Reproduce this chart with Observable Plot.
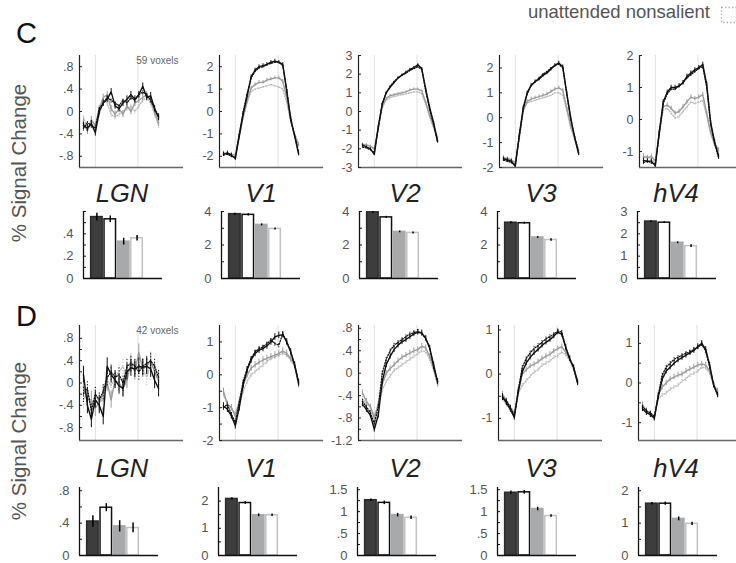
<!DOCTYPE html>
<html><head><meta charset="utf-8">
<script src="https://cdn.jsdelivr.net/npm/d3@7"></script>
<script src="https://cdn.jsdelivr.net/npm/@observablehq/plot@0.6"></script>
<style>
html,body{margin:0;padding:0;background:#fff;}
#fig{position:relative;width:736px;height:563px;overflow:hidden;font-family:"Liberation Sans",Arial,sans-serif;}
</style></head>
<body><div id="fig"></div>
<script>
// ---------------- DATA ----------------
const regions = ["LGN", "V1", "V2", "V3", "hV4"];
const conditions = ["attended salient", "attended nonsalient", "unattended salient", "unattended nonsalient"];
const refLines = [3, 13.8];           // stimulus on/off markers (time index)
const voxelNotes = ["59 voxels", "42 voxels"];

// Panel C time courses (AS, AN, US, UN)
const C_LGN_AS = [-0.25,-0.3,-0.22,-0.38,0.0,0.15,0.22,0.35,0.1,0.05,0.15,0.22,0.3,0.22,0.3,0.45,0.25,0.28,0.05,-0.1];
const C_LGN_AN = [-0.3,-0.2,-0.25,-0.3,0.05,0.15,0.25,0.2,0.15,0.1,0.2,0.15,0.25,0.2,0.3,0.35,0.3,0.2,0.05,-0.1];
const C_LGN_US = [-0.2,-0.35,-0.15,-0.25,0.05,0.25,0.3,0.05,-0.05,0.05,-0.05,0.1,0.0,0.15,0.2,0.25,0.3,0.2,0.0,-0.2];
const C_LGN_UN = [-0.1,-0.3,-0.2,-0.3,-0.05,0.2,0.15,-0.05,-0.1,-0.05,0.0,0.05,0.1,0.0,0.1,0.2,0.25,0.15,-0.05,-0.25];
const C_V1_AS = [-1.9,-1.85,-1.95,-2.1,-1.1,-0.1,0.7,1.55,1.85,2.0,2.05,2.1,2.2,2.25,2.2,2.1,0.9,-0.3,-1.1,-1.9];
const C_V1_AN = [-1.95,-1.9,-2.0,-2.05,-1.0,0.0,0.8,1.5,1.8,1.95,2.0,2.1,2.15,2.2,2.2,2.05,1.0,-0.4,-1.05,-1.8];
const C_V1_US = [-1.85,-1.9,-1.9,-1.95,-1.1,-0.2,0.5,1.05,1.2,1.3,1.3,1.4,1.45,1.5,1.5,1.35,0.6,-0.4,-1.1,-1.5];
const C_V1_UN = [-1.9,-1.85,-1.95,-2.0,-1.1,-0.3,0.4,0.9,1.0,1.05,1.1,1.15,1.2,1.15,1.1,1.0,0.4,-0.4,-1.0,-1.4];
const C_V2_AS = [-1.8,-1.9,-2.0,-2.3,-0.8,0.4,1.0,1.3,1.55,1.8,1.95,2.1,2.25,2.35,2.5,2.3,1.2,0.2,-0.6,-1.6];
const C_V2_AN = [-1.9,-1.95,-2.05,-2.2,-0.9,0.4,1.0,1.35,1.6,1.8,1.95,2.05,2.2,2.3,2.4,2.25,1.1,0.1,-0.7,-1.65];
const C_V2_US = [-1.75,-1.8,-1.85,-2.0,-0.9,0.3,0.7,0.85,0.9,0.95,1.0,1.05,1.15,1.2,1.2,1.1,0.5,-0.2,-0.8,-1.4];
const C_V2_UN = [-1.8,-1.75,-1.9,-2.0,-0.9,0.2,0.6,0.75,0.8,0.85,0.9,0.95,1.0,1.05,1.05,0.95,0.4,-0.3,-0.9,-1.5];
const C_V3_AS = [-1.65,-1.7,-1.75,-1.95,-0.7,0.4,1.0,1.3,1.45,1.55,1.7,1.8,1.95,2.1,2.2,2.05,1.0,0.0,-0.8,-1.45];
const C_V3_AN = [-1.7,-1.75,-1.8,-1.9,-0.75,0.35,0.95,1.3,1.45,1.6,1.75,1.85,2.0,2.1,2.15,2.0,0.95,-0.05,-0.75,-1.4];
const C_V3_US = [-1.6,-1.65,-1.7,-1.8,-0.8,0.3,0.65,0.75,0.8,0.85,0.9,0.95,1.05,1.15,1.2,1.1,0.4,-0.3,-0.8,-1.3];
const C_V3_UN = [-1.7,-1.6,-1.7,-1.85,-0.8,0.25,0.6,0.65,0.7,0.75,0.8,0.85,0.9,1.0,1.0,0.9,0.3,-0.4,-0.9,-1.35];
const C_hV4_AS = [-1.28,-1.3,-1.3,-1.45,-0.4,0.55,0.85,1.0,1.0,1.05,1.15,1.35,1.45,1.55,1.62,1.72,1.1,-0.1,-0.7,-1.15];
const C_hV4_AN = [-1.35,-1.3,-1.35,-1.4,-0.45,0.5,0.8,0.95,0.95,1.05,1.15,1.3,1.4,1.5,1.6,1.65,1.0,-0.15,-0.75,-1.2];
const C_hV4_US = [-1.15,-1.2,-1.15,-1.3,-0.4,0.4,0.45,0.35,0.2,0.25,0.4,0.55,0.7,0.65,0.7,0.78,0.2,-0.4,-0.75,-0.95];
const C_hV4_UN = [-1.2,-1.15,-1.25,-1.35,-0.45,0.3,0.35,0.2,0.05,0.1,0.25,0.4,0.55,0.5,0.55,0.6,0.1,-0.45,-0.8,-1.05];

// Panel D time courses
const D_LGN_AS = [0.15,-0.4,-0.65,-0.3,-0.4,-0.6,0.3,0.15,0.05,-0.05,-0.1,0.2,0.27,0.25,0.3,0.28,0.3,0.25,0.05,-0.1];
const D_LGN_AN = [-0.2,-0.1,-0.5,-0.2,-0.3,-0.15,0.1,0.2,0.1,0.15,0.0,0.3,0.35,0.3,0.2,0.3,0.35,0.4,0.3,0.1];
const D_LGN_US = [-0.05,-0.3,-0.3,-0.45,-0.35,-0.2,0.0,-0.3,0.05,0.0,-0.1,0.05,0.35,0.2,0.55,0.25,0.3,0.4,0.2,0.05];
const D_LGN_UN = [-0.3,-0.15,-0.45,-0.2,-0.35,-0.3,0.05,-0.05,0.1,0.2,0.3,0.1,0.4,0.3,0.3,0.25,0.1,0.35,0.25,0.0];
const D_V1_AS = [-0.95,-1.05,-1.25,-1.55,-1.0,-0.3,0.15,0.45,0.65,0.75,0.8,0.88,1.0,1.15,1.2,1.22,1.0,0.7,0.3,-0.25];
const D_V1_AN = [-1.0,-0.9,-1.2,-1.45,-0.85,-0.2,0.2,0.5,0.7,0.8,0.85,0.95,1.05,0.95,0.9,1.25,1.0,0.7,0.3,-0.2];
const D_V1_US = [-0.5,-0.9,-1.0,-1.25,-0.8,-0.3,0.0,0.2,0.3,0.38,0.45,0.5,0.55,0.6,0.65,0.72,0.65,0.5,0.3,-0.3];
const D_V1_UN = [-0.6,-0.9,-1.0,-1.2,-0.9,-0.5,-0.2,0.0,0.1,0.2,0.3,0.4,0.5,0.55,0.6,0.65,0.6,0.45,0.25,-0.3];
const D_V2_AS = [-0.55,-0.65,-0.75,-1.0,-0.75,-0.15,0.15,0.3,0.42,0.5,0.56,0.6,0.65,0.7,0.73,0.72,0.62,0.45,0.15,-0.15];
const D_V2_AN = [-0.5,-0.6,-0.7,-0.9,-0.6,0.0,0.25,0.4,0.5,0.55,0.6,0.65,0.7,0.72,0.75,0.7,0.62,0.45,0.1,-0.15];
const D_V2_US = [-0.35,-0.5,-0.6,-0.8,-0.55,-0.2,0.0,0.08,0.15,0.22,0.28,0.32,0.36,0.4,0.42,0.48,0.45,0.3,0.1,-0.2];
const D_V2_UN = [-0.45,-0.55,-0.6,-0.75,-0.6,-0.3,-0.15,-0.05,0.05,0.1,0.15,0.2,0.25,0.3,0.35,0.4,0.38,0.25,0.05,-0.2];
const D_V3_AS = [-0.5,-0.65,-0.8,-0.98,-0.4,0.05,0.25,0.38,0.48,0.56,0.65,0.72,0.78,0.86,0.95,0.9,0.6,0.35,0.15,-0.2];
const D_V3_AN = [-0.55,-0.6,-0.75,-0.95,-0.35,0.15,0.35,0.48,0.58,0.65,0.72,0.8,0.85,0.9,0.98,0.95,0.62,0.35,0.15,-0.2];
const D_V3_US = [-0.45,-0.6,-0.75,-0.9,-0.4,0.0,0.1,0.18,0.22,0.28,0.35,0.4,0.45,0.52,0.58,0.62,0.5,0.35,0.15,-0.15];
const D_V3_UN = [-0.55,-0.7,-0.75,-0.85,-0.45,-0.25,-0.15,-0.05,0.05,0.1,0.2,0.25,0.3,0.38,0.42,0.5,0.45,0.3,0.1,-0.2];
const D_hV4_AS = [-0.65,-0.75,-0.8,-0.88,-0.35,0.1,0.3,0.4,0.5,0.58,0.64,0.7,0.76,0.82,0.92,1.0,0.85,0.45,-0.05,-0.3];
const D_hV4_AN = [-0.6,-0.7,-0.75,-0.85,-0.3,0.2,0.4,0.5,0.6,0.65,0.7,0.75,0.78,0.85,0.9,0.98,0.8,0.4,-0.05,-0.3];
const D_hV4_US = [-0.55,-0.7,-0.8,-0.9,-0.3,-0.1,0.0,0.1,0.15,0.2,0.22,0.3,0.35,0.4,0.45,0.48,0.45,0.3,-0.05,-0.2];
const D_hV4_UN = [-0.6,-0.75,-0.8,-0.85,-0.4,-0.3,-0.25,-0.15,-0.1,-0.05,0.05,0.1,0.2,0.25,0.3,0.4,0.38,0.25,-0.05,-0.25];

// Time-course error bar half-widths per region (AS, AN, US, UN)
const C_tcErr = [[0.06,0.05,0.06,0.05],[0.08,0.06,0.08,0.06],[0.06,0.05,0.06,0.05],[0.07,0.05,0.07,0.05],[0.07,0.05,0.07,0.05]];
const D_tcErr = [[0.15,0.15,0.15,0.15],[0.1,0.08,0.1,0.08],[0.05,0.04,0.05,0.04],[0.06,0.05,0.06,0.05],[0.07,0.06,0.07,0.06]];

// Time-course y axes
const C_tcDomain = [[-1,1],[-2.5,2.5],[-3,3],[-2,2.5],[-1.5,2]];
const C_tcTicks = [[-0.8,-0.4,0,0.4,0.8],[-2,-1,0,1,2],[-3,-2,-1,0,1,2,3],[-2,-1,0,1,2],[-1,0,1,2]];
const C_tcMinor = [[],[],[],[],[]];
const D_tcDomain = [[-1.03,1.03],[-2,1.5],[-1.2,0.85],[-1.5,1.1],[-1.45,1.45]];
const D_tcTicks = [[-0.8,-0.4,0,0.4,0.8],[-2,-1,0,1],[-1.2,-0.8,-0.4,0,0.4,0.8],[-1,0,1],[-1,0,1]];
const D_tcMinor = [[-0.6,-0.2,0.2,0.6],[-1.5,-0.5,0.5],[-1,-0.6,-0.2,0.2,0.6],[-0.5,0.5],[-0.5,0.5]];

// Bar amplitudes per region (AS, AN, US, UN)
const C_bars = [[0.55,0.53,0.33,0.36],[3.84,3.8,3.2,2.96],[3.95,3.65,2.78,2.72],[3.33,3.3,2.45,2.3],[2.55,2.5,1.6,1.45]];
const C_barErr = [[0.035,0.03,0.03,0.025],[0.06,0.07,0.06,0.06],[0.05,0.06,0.05,0.06],[0.06,0.06,0.05,0.07],[0.04,0.04,0.04,0.06]];
const D_bars = [[0.42,0.59,0.36,0.34],[2.08,1.93,1.48,1.48],[1.26,1.2,0.92,0.86],[1.43,1.44,1.06,0.9],[1.6,1.6,1.13,0.98]];
const D_barErr = [[0.07,0.05,0.07,0.06],[0.04,0.05,0.05,0.05],[0.03,0.04,0.04,0.04],[0.04,0.04,0.04,0.03],[0.04,0.05,0.06,0.05]];
const C_barDomain = [[0,0.6],[0,4],[0,4],[0,4],[0,3]];
const C_barTicks = [[0,0.2,0.4],[0,2,4],[0,2,4],[0,2,4],[0,1,2,3]];
const C_barMinor = [[0.1,0.3,0.5,0.6],[1,3],[1,3],[1,3],[0.5,1.5,2.5]];
const D_barDomain = [[0,0.84],[0,2.5],[0,1.55],[0,1.55],[0,2.1]];
const D_barTicks = [[0,0.4,0.8],[0,1,2],[0,0.5,1,1.5],[0,0.5,1,1.5],[0,1,2]];
const D_barMinor = [[0.2,0.6],[0.5,1.5],[0.25,0.75,1.25],[0.25,0.75,1.25],[0.5,1.5]];

const C_tc = [[C_LGN_AS,C_LGN_AN,C_LGN_US,C_LGN_UN],[C_V1_AS,C_V1_AN,C_V1_US,C_V1_UN],[C_V2_AS,C_V2_AN,C_V2_US,C_V2_UN],[C_V3_AS,C_V3_AN,C_V3_US,C_V3_UN],[C_hV4_AS,C_hV4_AN,C_hV4_US,C_hV4_UN]];
const D_tc = [[D_LGN_AS,D_LGN_AN,D_LGN_US,D_LGN_UN],[D_V1_AS,D_V1_AN,D_V1_US,D_V1_UN],[D_V2_AS,D_V2_AN,D_V2_US,D_V2_UN],[D_V3_AS,D_V3_AN,D_V3_US,D_V3_UN],[D_hV4_AS,D_hV4_AN,D_hV4_US,D_hV4_UN]];

// ---------------- DRAWING ----------------
const FONT = "'Liberation Sans', Arial, Helvetica, sans-serif";
const fig = document.getElementById("fig");
const fmt = d => { if (d === 0) return "0"; return String(+d.toFixed(2)).replace(/^(-?)0\./, "$1."); };

const lineStyles = [
  {stroke: "#111", dash: null, w: 1.4},
  {stroke: "#111", dash: "1.2,1.6", w: 1.3},
  {stroke: "#9c9c9c", dash: null, w: 1.4},
  {stroke: "#b8b8b8", dash: "1.2,1.6", w: 1.3}
];
const barFill = ["#3d3d3d", "#ffffff", "#a8a9ab", "#ffffff"];
const barStroke = ["#2b2b2b", "#111111", "#a8a9ab", "#c2c2c2"];

function place(svg, left, top) {
  svg.style.position = "absolute";
  svg.style.left = left + "px";
  svg.style.top = top + "px";
  svg.style.overflow = "visible";
  fig.appendChild(svg);
}

function linePanel(axisX, frameTop, frameH, domain, ticks, minor, series, errs, note) {
  const ML = 34, MR = 4, MT = 4, MB = 4, FW = 104;
  const xDom = [-1, 25.3];
  const tl = (xDom[1] - xDom[0]) * 3 / FW;
  const marks = [Plot.ruleX(refLines, {stroke: "#e0e0e0", strokeWidth: 1})];
  [3, 2, 1, 0].forEach(k => {
    const st = lineStyles[k], e = errs[k];
    marks.push(Plot.ruleX(series[k], {x: (d, i) => i, y1: d => d - e, y2: d => d + e, stroke: st.stroke, strokeWidth: 1, strokeDasharray: st.dash}));
    marks.push(Plot.lineY(series[k], {x: (d, i) => i, y: d => d, stroke: st.stroke, strokeWidth: st.w, strokeDasharray: st.dash}));
  });
  marks.push(Plot.ruleX([xDom[0]], {stroke: "#222", strokeWidth: 1.2}));
  marks.push(Plot.ruleY([domain[0]], {stroke: "#666", strokeWidth: 1.5}));
  marks.push(Plot.ruleY([...ticks, ...minor], {x1: () => xDom[0], x2: () => xDom[0] + tl, stroke: "#222", strokeWidth: 1}));
  marks.push(Plot.axisY(ticks, {tickSize: 0, tickPadding: 6, tickFormat: fmt, label: null, color: "#555"}));
  if (note) marks.push(Plot.text([note], {frameAnchor: "top-right", dx: -5, dy: 1, lineAnchor: "top", fontSize: 10, fill: "#666"}));
  const svg = Plot.plot({
    width: ML + FW + MR, height: MT + frameH + MB,
    marginLeft: ML, marginRight: MR, marginTop: MT, marginBottom: MB,
    x: {domain: xDom, axis: null},
    y: {domain},
    style: {fontFamily: FONT, fontSize: "12.5px", color: "#555", background: "none"},
    marks
  });
  place(svg, axisX - ML, frameTop - MT);
}

function barPanel(axisX, frameTop, frameH, domain, ticks, minor, values, errs) {
  const ML = 40, MR = 4, MT = 4, MB = 4, FW = 79;
  const xDom = [0, 5.9];
  const tl = (xDom[1] - xDom[0]) * 3 / FW;
  const hw = 0.43;
  const marks = [];
  values.forEach((v, k) => {
    marks.push(Plot.rectY([v], {x1: () => k + 1 - hw, x2: () => k + 1 + hw, y1: () => 0, y2: d => d,
      fill: barFill[k], stroke: barStroke[k], strokeWidth: 1.5}));
    marks.push(Plot.ruleX([v], {x: () => k + 1, y1: d => d - errs[k], y2: d => d + errs[k], stroke: "#000", strokeWidth: 1.5}));
  });
  marks.push(Plot.ruleX([xDom[0]], {stroke: "#111", strokeWidth: 1.3}));
  marks.push(Plot.ruleY([domain[0]], {stroke: "#111", strokeWidth: 1.3}));
  marks.push(Plot.ruleY([...ticks, ...minor], {x1: () => xDom[0], x2: () => xDom[0] + tl, stroke: "#111", strokeWidth: 1}));
  marks.push(Plot.axisY(ticks, {tickSize: 0, tickPadding: 10, tickFormat: fmt, label: null, color: "#555"}));
  const svg = Plot.plot({
    width: ML + FW + MR, height: MT + frameH + MB,
    marginLeft: ML, marginRight: MR, marginTop: MT, marginBottom: MB,
    x: {domain: xDom, axis: null},
    y: {domain},
    style: {fontFamily: FONT, fontSize: "13px", color: "#555", background: "none"},
    marks
  });
  place(svg, axisX - ML, frameTop - MT);
}

// annotation overlay (real text)
const ov = d3.select(fig).append("svg").attr("width", 736).attr("height", 563)
  .style("position", "absolute").style("left", 0).style("top", 0).style("font-family", FONT);
function label(x, y, s, size, color, anchor, extra) {
  const t = ov.append("text").attr("x", x).attr("y", y).attr("font-size", size).attr("fill", color)
    .attr("text-anchor", anchor || "start").text(s);
  if (extra) extra(t);
  return t;
}
label(16, 43, "C", 29, "#111");
label(16, 326, "D", 29, "#111");
ov.append("text").attr("transform", "translate(26,163) rotate(-90)").attr("text-anchor", "middle")
  .attr("font-size", 20.5).attr("fill", "#555").text("% Signal Change");
ov.append("text").attr("transform", "translate(26,441) rotate(-90)").attr("text-anchor", "middle")
  .attr("font-size", 20.5).attr("fill", "#555").text("% Signal Change");
label(710, 18, conditions[3], 18.5, "#555", "end");
ov.append("rect").attr("x", 721.5).attr("y", 7.5).attr("width", 15).attr("height", 15)
  .attr("fill", "none").attr("stroke", "#aaa").attr("stroke-width", 1.3).attr("stroke-dasharray", "1.3,2.2");

const titleX = [122, 261, 405, 541, 676];
regions.forEach((r, i) => {
  label(titleX[i], 202, r, 25.5, "#222", "middle", t => t.attr("font-style", "italic"));
  label(titleX[i], 477, r, 25.5, "#222", "middle", t => t.attr("font-style", "italic"));
});

// panels
const cLineX = [79, 219, 358, 499, 639];
const cBarX = [83, 221, 359, 497, 637];
const dLineX = [79, 219, 358, 498, 638];
const dBarX = [79, 218, 357, 497, 638];
regions.forEach((r, i) => {
  linePanel(cLineX[i], 55, 112, C_tcDomain[i], C_tcTicks[i], C_tcMinor[i], C_tc[i], C_tcErr[i], i === 0 ? voxelNotes[0] : null);
  barPanel(cBarX[i], 211, 67, C_barDomain[i], C_barTicks[i], C_barMinor[i], C_bars[i], C_barErr[i]);
  linePanel(dLineX[i], 325, 115, D_tcDomain[i], D_tcTicks[i], D_tcMinor[i], D_tc[i], D_tcErr[i], i === 0 ? voxelNotes[1] : null);
  barPanel(dBarX[i], 487, 68, D_barDomain[i], D_barTicks[i], D_barMinor[i], D_bars[i], D_barErr[i]);
});
</script></body></html>
